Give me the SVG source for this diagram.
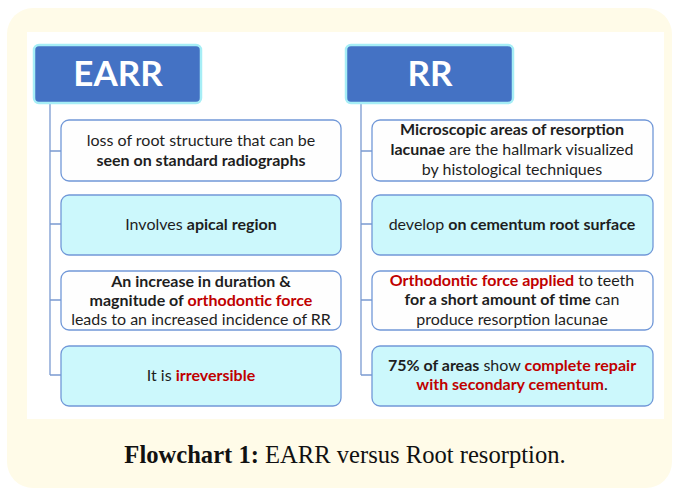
<svg xmlns="http://www.w3.org/2000/svg" width="674" height="489" viewBox="0 0 674 489">
<style>
.hdr{fill:#4472C4;stroke:#A6EEF6;stroke-width:2.5}
.hdrt{font-family:Lato,"Open Sans",sans-serif;font-weight:700;font-size:35px;fill:#fff;text-anchor:middle}
.bw{fill:#fefefe;stroke:#7198D8;stroke-width:1.3}
.bc{fill:#CCF8FC;stroke:#7198D8;stroke-width:1.3}
.t{font-family:Lato,"Open Sans",sans-serif;font-size:16px;fill:#1e1e1e;text-anchor:middle}
.b{font-weight:700}
.r{fill:#C00000;font-weight:700}
.ln{stroke:#7B9BD1;stroke-width:1.3;fill:none}
.cap{font-family:"Liberation Serif",serif;font-size:24.6px;fill:#111;text-anchor:middle}
</style>
<rect x="7" y="8" width="665" height="480" rx="26" fill="#FFFBE8"/>
<rect x="27" y="32" width="637" height="387" fill="#ffffff"/>
<g id="connectors">
<path class="ln" d="M50 103V375M50 151H61M50 224H61M50 300H61M50 375H61"/>
<path class="ln" d="M361 103V375M361 151H372M361 224H372M361 300H372M361 375H372"/>
</g>
<g id="earr">
<rect class="hdr" x="34" y="45" width="167" height="58" rx="5"/>
<text class="hdrt" x="118" y="86">EARR</text>
</g>
<g id="rr">
<rect class="hdr" x="346" y="45" width="167" height="58" rx="5"/>
<text class="hdrt" x="430" y="86">RR</text>
</g>
<g id="l1">
<rect class="bw" x="61" y="120" width="280" height="61" rx="8"/>
<text class="t" x="201" y="146">loss of root structure that can be</text>
<text class="t b" x="201" y="166">seen on standard radiographs</text>
</g>
<g id="l2">
<rect class="bc" x="61" y="195" width="280" height="60" rx="8"/>
<text class="t" x="201" y="230">Involves <tspan class="b">apical region</tspan></text>
</g>
<g id="l3">
<rect class="bw" x="61" y="271" width="280" height="59" rx="8"/>
<text class="t b" x="201" y="287">An increase in duration &amp;</text>
<text class="t b" x="201" y="306">magnitude of <tspan class="r">orthodontic force</tspan></text>
<text class="t" x="201" y="325">leads to an increased incidence of RR</text>
</g>
<g id="l4">
<rect class="bc" x="61" y="346" width="280" height="60" rx="8"/>
<text class="t" x="201" y="381">It is <tspan class="r">irreversible</tspan></text>
</g>
<g id="r1">
<rect class="bw" x="372" y="120" width="281" height="61" rx="8"/>
<text class="t b" x="512" y="135">Microscopic areas of resorption</text>
<text class="t" x="512" y="155"><tspan class="b">lacunae</tspan> are the hallmark visualized</text>
<text class="t" x="512" y="175">by histological techniques</text>
</g>
<g id="r2">
<rect class="bc" x="372" y="195" width="281" height="60" rx="8"/>
<text class="t" x="512" y="230">develop <tspan class="b">on cementum root surface</tspan></text>
</g>
<g id="r3">
<rect class="bw" x="372" y="271" width="281" height="59" rx="8"/>
<text class="t" x="512" y="286"><tspan class="r">Orthodontic force applied</tspan> to teeth</text>
<text class="t" x="512" y="305"><tspan class="b">for a short amount of time</tspan> can</text>
<text class="t" x="512" y="325">produce resorption lacunae</text>
</g>
<g id="r4">
<rect class="bc" x="372" y="346" width="281" height="60" rx="8"/>
<text class="t" x="512" y="371"><tspan class="b">75% of areas</tspan> show <tspan class="r">complete repair</tspan></text>
<text class="t" x="512" y="390"><tspan class="r">with secondary cementum</tspan>.</text>
</g>
<text class="cap" x="345" y="463"><tspan font-weight="700">Flowchart 1:</tspan> EARR versus Root resorption.</text>
</svg>
